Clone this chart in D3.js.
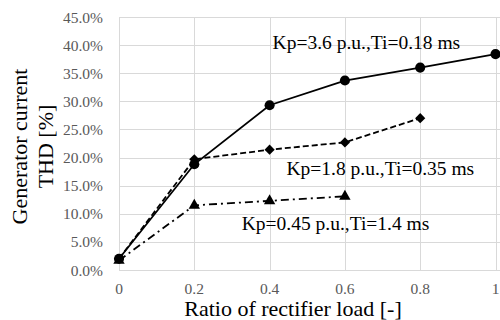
<!DOCTYPE html>
<html>
<head>
<meta charset="utf-8">
<script src="https://cdn.jsdelivr.net/npm/d3@7"></script>
<style>
  body { margin: 0; background: #fff; }
</style>
</head>
<body>
<svg id="chart" width="500" height="320" font-family="'Liberation Serif', 'Times New Roman', Times, serif"></svg>
<script>
// x values (ratio of rectifier load)
const loadRatio = [0, 0.2, 0.4, 0.6, 0.8, 1];
const xTicks = [0, 0.2, 0.4, 0.6, 0.8, 1];
const yTicks = [0, 5, 10, 15, 20, 25, 30, 35, 40, 45];

// THD values in %
const thdKp36 = [2.0, 18.8, 29.3, 33.7, 36.0, 38.4];
const thdKp18 = [2.0, 19.7, 21.4, 22.7, 27.0];
const thdKp045 = [1.7, 11.5, 12.3, 13.1];

const seriesNames = ["Kp=3.6 p.u.,Ti=0.18 ms", "Kp=1.8 p.u.,Ti=0.35 ms", "Kp=0.45 p.u.,Ti=1.4 ms"];

const svg = d3.select("#chart");
const serif = "'Liberation Serif', 'Times New Roman', Times, serif";

const x = d3.scaleLinear().domain([0, 1]).range([119, 495.5]);
const y = d3.scaleLinear().domain([0, 45]).range([270, 17]);

// gridlines
const grid = svg.append("g");
grid.selectAll(".hg").data(yTicks).enter().append("line")
  .attr("x1", x(0)).attr("x2", 500)
  .attr("y1", d => Math.round(y(d)) + 0.5).attr("y2", d => Math.round(y(d)) + 0.5)
  .attr("stroke", "#d9d9d9").attr("stroke-width", 1);
grid.selectAll(".vg").data(xTicks).enter().append("line")
  .attr("y1", y(45)).attr("y2", y(0))
  .attr("x1", d => Math.round(x(d)) + 0.5).attr("x2", d => Math.round(x(d)) + 0.5)
  .attr("stroke", "#d9d9d9").attr("stroke-width", 1);

// tick labels
svg.selectAll(".yt").data(yTicks).enter().append("text")
  .attr("x", 103).attr("y", d => y(d) + 5.5)
  .attr("text-anchor", "end").attr("font-family", serif)
  .attr("font-size", "15.5px").attr("fill", "#595959")
  .text(d => d3.format(".1f")(d) + "%");

svg.selectAll(".xt").data(xTicks).enter().append("text")
  .attr("x", d => x(d)).attr("y", 294)
  .attr("text-anchor", "middle").attr("font-family", serif)
  .attr("font-size", "15.5px").attr("fill", "#595959")
  .text(d => d === 0 || d === 1 ? d3.format("d")(d) : d3.format(".1f")(d));

// axis titles
svg.append("text")
  .attr("x", 293).attr("y", 316)
  .attr("text-anchor", "middle").attr("font-family", serif)
  .attr("font-size", "22px").attr("fill", "#000")
  .text("Ratio of rectifier load [-]");

const yTitle = svg.append("g").attr("transform", "translate(0,146.5) rotate(-90)");
yTitle.append("text").attr("x", 0).attr("y", 27).attr("font-family", serif)
  .attr("text-anchor", "middle").attr("font-size", "22px").text("Generator current");
yTitle.append("text").attr("x", 0).attr("y", 53).attr("font-family", serif)
  .attr("text-anchor", "middle").attr("font-size", "22px").text("THD [%]");

// lines
const line = d3.line().x(d => x(d[0])).y(d => y(d[1]));
function pairs(vals) { return vals.map((v, i) => [loadRatio[i], v]); }

const series = [
  {vals: thdKp36, dash: null, marker: d3.symbolCircle, size: 80},
  {vals: thdKp18, dash: "6,3", marker: d3.symbolDiamond2, size: 66},
  {vals: thdKp045, dash: "8,4,2,4", marker: d3.symbolTriangle, size: 56}
];

series.forEach(s => {
  svg.append("path").datum(pairs(s.vals))
    .attr("d", line).attr("fill", "none")
    .attr("stroke", "#000").attr("stroke-width", 1.8)
    .attr("stroke-dasharray", s.dash);
});
series.forEach(s => {
  svg.selectAll(null).data(pairs(s.vals)).enter().append("path")
    .attr("d", d3.symbol().type(s.marker).size(s.size))
    .attr("transform", d => "translate(" + x(d[0]) + "," + y(d[1]) + ")")
    .attr("fill", "#000");
});

// series labels
const labelPos = [[0.408, 39.3], [0.445, 16.9], [0.326, 7.1]];
svg.selectAll(".lab").data(seriesNames).enter().append("text")
  .attr("x", (d, i) => x(labelPos[i][0])).attr("y", (d, i) => y(labelPos[i][1]))
  .attr("font-family", serif)
  .attr("font-size", "19.5px").attr("fill", "#000")
  .text(d => d);
</script>
</body>
</html>
